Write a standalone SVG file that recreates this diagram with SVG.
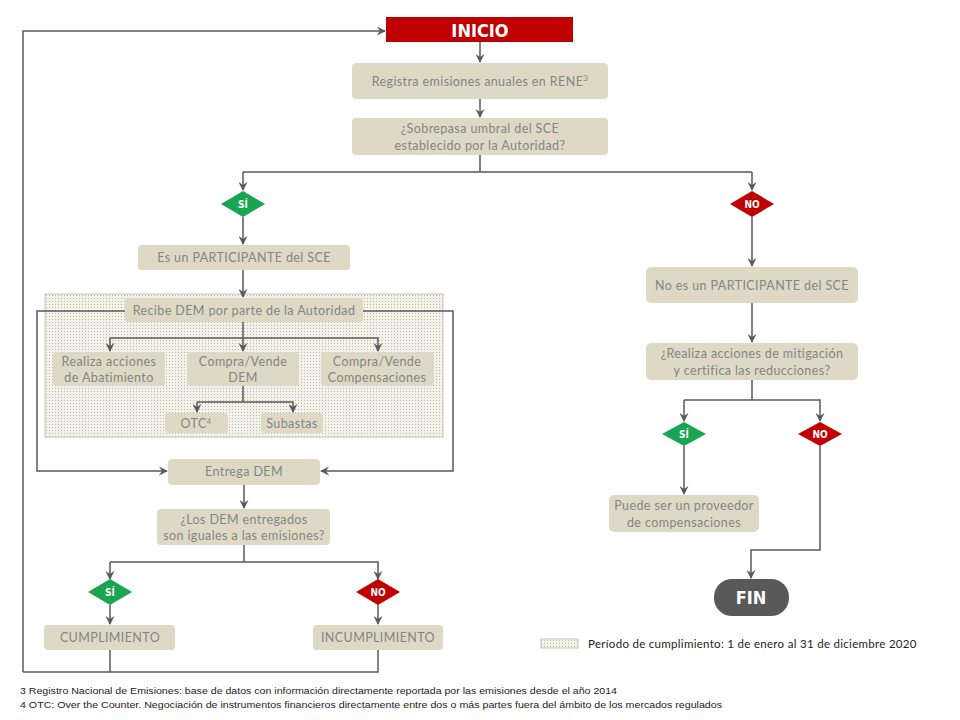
<svg xmlns="http://www.w3.org/2000/svg" width="960" height="720" viewBox="0 0 960 720">
<style>
.box{fill:#ddd9c4;}
.t{font-family:Lato,"Liberation Sans",sans-serif;font-size:12.5px;fill:#858585;text-anchor:middle;letter-spacing:0.4px;}
.c{fill:none;stroke:#595959;stroke-width:1.5;}
.ca{fill:none;stroke:#595959;stroke-width:1.5;marker-end:url(#ah);}
.b{font-family:"DejaVu Sans Condensed","DejaVu Sans",sans-serif;font-weight:bold;fill:#fff;text-anchor:middle;}
.yes{fill:#1aa650;}
.no{fill:#c00000;}
.fn{font-family:"Liberation Sans",Arial,sans-serif;font-size:9.5px;fill:#222;}
</style>
<defs>
<marker id="ah" viewBox="0 0 10 10" refX="9" refY="5" markerWidth="9" markerHeight="9" markerUnits="userSpaceOnUse" orient="auto">
<path d="M0,0 L10,5 L0,10 L3.5,5 z" fill="#595959"/>
</marker>
<pattern id="dots" width="3" height="3" patternUnits="userSpaceOnUse">
<rect width="3" height="3" fill="#f3f1ea"/>
<rect x="1" y="1" width="1" height="1" fill="#bdb8a6"/>
</pattern>
</defs>
<rect width="960" height="720" fill="#fff"/>

<g id="periodo-area">
<rect x="45" y="294" width="398" height="143" fill="url(#dots)" stroke="#c8c4b4" stroke-width="1"/>
</g>

<g id="connectors">
<path class="ca" d="M23,672 V31 H385"/>
<path class="ca" d="M480,42 V62"/>
<path class="ca" d="M480,99 V117"/>
<path class="c" d="M480,155 V172"/>
<path class="c" d="M243,172 H752"/>
<path class="ca" d="M243,172 V190"/>
<path class="ca" d="M752,172 V190"/>
<path class="ca" d="M243,217 V244"/>
<path class="ca" d="M243,270 V297"/>
<path class="ca" d="M125,311 H37 V471 H167"/>
<path class="ca" d="M363,311 H453 V471 H321"/>
<path class="c" d="M243,322 V338"/>
<path class="ca" d="M110,338 H378 V351"/>
<path class="ca" d="M110,338 V351"/>
<path class="ca" d="M243,338 V351"/>
<path class="c" d="M243,386 V402"/>
<path class="ca" d="M197,402 H293 V412"/>
<path class="ca" d="M197,402 V412"/>
<path class="ca" d="M244,485 V508"/>
<path class="c" d="M244,545 V562"/>
<path class="ca" d="M110,562 V579"/>
<path class="ca" d="M110,562 H378 V579"/>
<path class="ca" d="M110,605 V624"/>
<path class="ca" d="M378,605 V624"/>
<path class="c" d="M110,650 V672 H23"/>
<path class="c" d="M378,650 V672 H110"/>
<path class="ca" d="M752,217 V266"/>
<path class="ca" d="M752,303 V342"/>
<path class="c" d="M752,380 V400"/>
<path class="ca" d="M684,400 V421"/>
<path class="ca" d="M684,400 H820 V421"/>
<path class="ca" d="M684,446 V494"/>
<path class="ca" d="M820,446 V550 H751 V578"/>
</g>

<g id="inicio">
<rect x="386" y="17" width="187" height="25" fill="#c00000"/>
<text class="b" x="480" y="37" font-size="18">INICIO</text>
</g>

<g id="registra">
<rect class="box" x="352" y="63" width="256" height="36" rx="4"/>
<text class="t" x="480" y="86">Registra emisiones anuales en RENE<tspan font-size="8" dy="-5">3</tspan></text>
</g>

<g id="sobrepasa">
<rect class="box" x="352" y="118" width="256" height="37" rx="4"/>
<text class="t" x="480" y="133">¿Sobrepasa umbral del SCE</text>
<text class="t" x="480" y="150">establecido por la Autoridad?</text>
</g>

<g id="si1">
<polygon class="yes" points="221,204 243,191 265,204 243,217"/>
<text class="b" x="243" y="208" font-size="10">SÍ</text>
</g>

<g id="no1">
<polygon class="no" points="730,204 752,191 774,204 752,217"/>
<text class="b" x="752" y="208" font-size="10">NO</text>
</g>

<g id="participante">
<rect class="box" x="138" y="245" width="212" height="25" rx="4"/>
<text class="t" x="244" y="262">Es un PARTICIPANTE  del SCE</text>
</g>

<g id="recibe">
<rect class="box" x="125" y="298" width="238" height="24" rx="4"/>
<text class="t" x="244" y="315">Recibe DEM por parte de la Autoridad</text>
</g>

<g id="abatimiento">
<rect class="box" x="53" y="352" width="112" height="34" rx="4"/>
<text class="t" x="109" y="366">Realiza acciones</text>
<text class="t" x="109" y="382">de Abatimiento</text>
</g>

<g id="compra-dem">
<rect class="box" x="187" y="352" width="112" height="34" rx="4"/>
<text class="t" x="243" y="366">Compra/Vende</text>
<text class="t" x="243" y="382">DEM</text>
</g>

<g id="compra-comp">
<rect class="box" x="321" y="352" width="113" height="34" rx="4"/>
<text class="t" x="377" y="366">Compra/Vende</text>
<text class="t" x="377" y="382">Compensaciones</text>
</g>

<g id="otc">
<rect class="box" x="165" y="413" width="63" height="20" rx="4"/>
<text class="t" x="196" y="428">OTC<tspan font-size="7.5" dy="-4">4</tspan></text>
</g>

<g id="subastas">
<rect class="box" x="261" y="413" width="62" height="20" rx="4"/>
<text class="t" x="292" y="428">Subastas</text>
</g>

<g id="entrega">
<rect class="box" x="168" y="459" width="152" height="26" rx="4"/>
<text class="t" x="244" y="476">Entrega DEM</text>
</g>

<g id="iguales">
<rect class="box" x="157" y="509" width="173" height="36" rx="4"/>
<text class="t" x="244" y="524">¿Los DEM entregados</text>
<text class="t" x="244" y="540">son iguales a las emisiones?</text>
</g>

<g id="si2">
<polygon class="yes" points="88,592 110,579 132,592 110,605"/>
<text class="b" x="110" y="596" font-size="10">SÍ</text>
</g>

<g id="no2">
<polygon class="no" points="356,592 378,579 400,592 378,605"/>
<text class="b" x="378" y="596" font-size="10">NO</text>
</g>

<g id="cumplimiento">
<rect class="box" x="44" y="625" width="131" height="25" rx="4"/>
<text class="t" x="110" y="642">CUMPLIMIENTO</text>
</g>

<g id="incumplimiento">
<rect class="box" x="313" y="625" width="130" height="25" rx="4"/>
<text class="t" x="378" y="642">INCUMPLIMIENTO</text>
</g>

<g id="no-participante">
<rect class="box" x="646" y="267" width="212" height="36" rx="5"/>
<text class="t" x="752" y="290">No es un PARTICIPANTE  del SCE</text>
</g>

<g id="mitigacion">
<rect class="box" x="646" y="343" width="212" height="37" rx="5"/>
<text class="t" x="752" y="358">¿Realiza acciones  de mitigación</text>
<text class="t" x="752" y="375">y certifica las reducciones?</text>
</g>

<g id="si3">
<polygon class="yes" points="662,434 684,422 706,434 684,446"/>
<text class="b" x="684" y="438" font-size="10">SÍ</text>
</g>

<g id="no3">
<polygon class="no" points="798,434 820,422 842,434 820,446"/>
<text class="b" x="820" y="438" font-size="10">NO</text>
</g>

<g id="proveedor">
<rect class="box" x="609" y="495" width="150" height="37" rx="5"/>
<text class="t" x="684" y="510">Puede ser un proveedor</text>
<text class="t" x="684" y="527">de compensaciones</text>
</g>

<g id="fin">
<rect x="714" y="579" width="75" height="37" rx="18" fill="#595959"/>
<text class="b" x="751" y="604" font-size="18">FIN</text>
</g>

<g id="leyenda">
<rect x="541" y="639" width="37" height="9" fill="url(#dots)" stroke="#c8c4b4" stroke-width="1"/>
<text x="588" y="648" font-family="Lato,'Liberation Sans',sans-serif" font-size="11.5" letter-spacing="0.3" fill="#222">Período de cumplimiento: 1 de enero al 31 de diciembre 2020</text>
</g>

<g id="notas">
<text class="fn" x="20" y="694" textLength="597" lengthAdjust="spacingAndGlyphs">3 Registro Nacional de Emisiones: base de datos con información directamente reportada por las emisiones desde el año 2014</text>
<text class="fn" x="20" y="708" textLength="702" lengthAdjust="spacingAndGlyphs">4 OTC: Over the Counter. Negociación de instrumentos financieros directamente entre dos o más partes fuera del ámbito de los mercados regulados</text>
</g>
</svg>
